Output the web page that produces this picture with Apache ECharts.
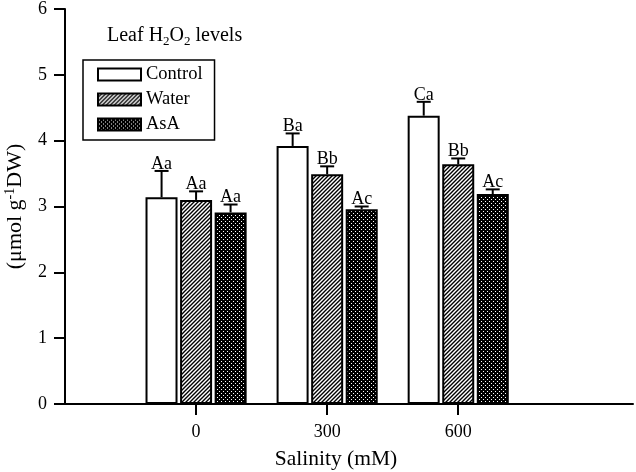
<!DOCTYPE html>
<html>
<head>
<meta charset="utf-8">
<script src="https://cdn.jsdelivr.net/npm/echarts@6/dist/echarts.min.js"></script>
<style>
  html, body { margin: 0; padding: 0; background: #fff; }
</style>
</head>
<body>
<div id="main" style="width: 636px; height: 472px;"></div>
<script>
// salinity levels (mM)
var salinity = [0, 300, 600]
var control = [3.14, 3.92, 4.38]
var controlErr = [0.40, 0.19, 0.21]
var controlLetters = ['Aa', 'Ba', 'Ca']
var water = [3.10, 3.49, 3.64]
var waterErr = [0.13, 0.12, 0.09]
var waterLetters = ['Aa', 'Bb', 'Bb']
var asa = [2.91, 2.96, 3.19]
var asaErr = [0.12, 0.04, 0.07]
var asaLetters = ['Aa', 'Ac', 'Ac']
var yTicks = [0, 1, 2, 3, 4, 5, 6]

var FONT = 'Liberation Serif'

function hatch () {
  var c = document.createElement('canvas')
  c.width = 4
  c.height = 4
  var g = c.getContext('2d')
  g.fillStyle = '#fff'
  g.fillRect(0, 0, 4, 4)
  g.strokeStyle = '#000'
  g.lineWidth = 1.4
  g.beginPath()
  g.moveTo(-1, 5); g.lineTo(5, -1)
  g.moveTo(-1, 1); g.lineTo(1, -1)
  g.moveTo(3, 5); g.lineTo(5, 3)
  g.stroke()
  return c
}

function dots () {
  var c = document.createElement('canvas')
  c.width = 4
  c.height = 4
  var g = c.getContext('2d')
  g.fillStyle = '#000'
  g.fillRect(0, 0, 4, 4)
  g.fillStyle = '#fff'
  g.fillRect(1, 1, 1, 1)
  g.fillRect(3, 3, 1, 1)
  return c
}

function pairs (vals) {
  return salinity.map(function (x, i) { return [x, vals[i]] })
}

function errData (vals, errs) {
  return salinity.map(function (x, i) { return [x, vals[i], vals[i] + errs[i]] })
}

function errSeries (vals, errs, letters, offset) {
  return {
    type: 'custom',
    z: 5,
    clip: false,
    data: errData(vals, errs),
    renderItem: function (params, api) {
      var base = api.coord([api.value(0), api.value(1)])
      var top = api.coord([api.value(0), api.value(2)])
      var cx = base[0] + offset
      return {
        type: 'group',
        children: [
          { type: 'line', shape: { x1: cx, y1: base[1], x2: cx, y2: top[1] }, style: { stroke: '#000', lineWidth: 2 } },
          { type: 'line', shape: { x1: cx - 7, y1: top[1], x2: cx + 7, y2: top[1] }, style: { stroke: '#000', lineWidth: 2 } },
          {
            type: 'text',
            x: cx,
            y: top[1] + 2,
            style: { text: letters[params.dataIndex], fontFamily: FONT, fontSize: 18, fill: '#000', align: 'center', verticalAlign: 'bottom' }
          }
        ]
      }
    }
  }
}

var barStyle = { borderColor: '#000', borderWidth: 2 }

var option = {
  animation: false,
  backgroundColor: '#fff',
  title: {
    text: 'Leaf H{sub|2}O{sub|2} levels',
    left: 107,
    top: 24,
    padding: 0,
    textStyle: {
      fontFamily: FONT,
      fontSize: 20,
      fontWeight: 'normal',
      color: '#000',
      lineHeight: 24,
      rich: {
        sub: { fontFamily: FONT, fontSize: 13, color: '#000', lineHeight: 10, verticalAlign: 'bottom' }
      }
    }
  },
  legend: {
    data: ['Control', 'Water', 'AsA'],
    orient: 'vertical',
    left: 83,
    top: 60,
    padding: [5, 12, 6, 14],
    borderColor: '#000',
    borderWidth: 1.5,
    itemWidth: 43,
    itemHeight: 12,
    itemGap: 6,
    icon: 'rect',
    textStyle: { fontFamily: FONT, fontSize: 18.5, color: '#000', lineHeight: 19 }
  },
  grid: { left: 65, right: 3, top: 9, bottom: 68, outerBoundsMode: 'none', containLabel: false },
  xAxis: {
    type: 'value',
    min: -300,
    max: 1000,
    name: 'Salinity (mM)',
    nameLocation: 'middle',
    nameGap: 44,
    nameTextStyle: { fontFamily: FONT, fontSize: 21.5, color: '#000', padding: [0, 26, 0, 0] },
    splitLine: { show: false },
    axisLine: { onZero: false, lineStyle: { color: '#000', width: 2 } },
    axisTick: { customValues: salinity, length: 11, lineStyle: { color: '#000', width: 2 } },
    axisLabel: { customValues: salinity, margin: 19, fontFamily: FONT, fontSize: 18, color: '#000' }
  },
  yAxis: {
    type: 'value',
    min: 0,
    max: 6,
    interval: 1,
    name: '(μmol g{sup|-1}DW)',
    nameLocation: 'middle',
    nameRotate: 90,
    nameGap: 36,
    nameTextStyle: {
      fontFamily: FONT,
      fontSize: 22,
      color: '#000',
      lineHeight: 24,
      rich: {
        sup: { fontFamily: FONT, fontSize: 14, color: '#000', lineHeight: 12, verticalAlign: 'top' }
      }
    },
    splitLine: { show: false },
    axisLine: { show: true, onZero: false, lineStyle: { color: '#000', width: 2 } },
    axisTick: { show: true, length: 11, lineStyle: { color: '#000', width: 2 } },
    axisLabel: {
      margin: 18,
      fontFamily: FONT,
      fontSize: 18,
      color: '#000',
      formatter: function (v) { return yTicks.indexOf(v) >= 0 ? String(v) : '' }
    }
  },
  series: [
    { name: 'Control', type: 'bar', barWidth: 32, barGap: '8%', data: pairs(control), itemStyle: Object.assign({ color: '#fff' }, barStyle) },
    { name: 'Water', type: 'bar', barWidth: 32, barGap: '8%', data: pairs(water), itemStyle: Object.assign({ color: { image: hatch(), repeat: 'repeat' } }, barStyle) },
    { name: 'AsA', type: 'bar', barWidth: 32, barGap: '8%', data: pairs(asa), itemStyle: Object.assign({ color: { image: dots(), repeat: 'repeat' } }, barStyle) },
    errSeries(control, controlErr, controlLetters, -34.5),
    errSeries(water, waterErr, waterLetters, 0),
    errSeries(asa, asaErr, asaLetters, 34.5)
  ]
}

var chart = echarts.init(document.getElementById('main'))
chart.setOption(option)
</script>
</body>
</html>
